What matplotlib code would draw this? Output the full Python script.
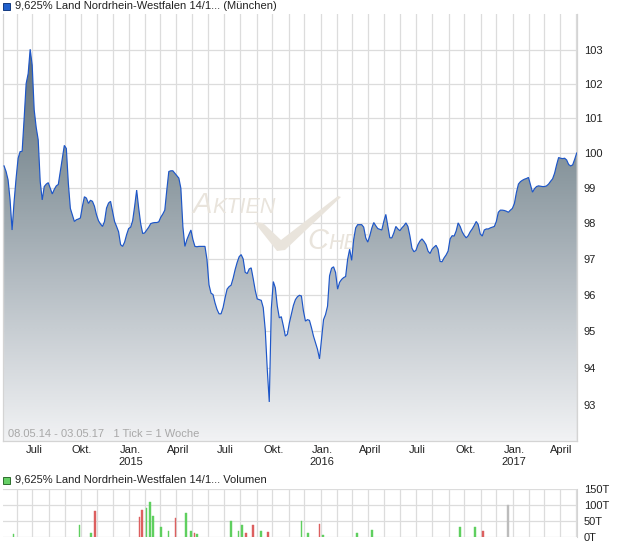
import numpy as np
import pandas as pd
import matplotlib
matplotlib.use("Agg")
import matplotlib.pyplot as plt
import matplotlib.dates as mdates
from matplotlib.colors import LinearSegmentedColormap
from matplotlib.patches import Rectangle, Polygon
from matplotlib.ticker import FixedLocator, FixedFormatter, NullLocator, NullFormatter
from matplotlib.transforms import ScaledTranslation
import datetime as dt

plt.rcParams['font.family'] = ['Liberation Sans', 'DejaVu Sans']

# ---------------- data ----------------
start_date = "2014-05-08"
end_date = "2017-05-03"

prices = [
    99.62, 99.46, 99.22, 98.65, 97.80, 98.60, 99.27, 99.84, 100.03, 100.04,
    100.99, 102.01, 102.30, 103.02, 102.55, 101.24, 100.73, 100.37, 99.17, 98.65,
    99.03, 99.10, 99.14, 98.98, 98.82, 98.95, 99.05, 99.09, 99.46, 99.84,
    100.21, 100.12, 99.12, 98.41, 98.23, 98.04, 98.09, 98.11, 98.14, 98.47,
    98.74, 98.70, 98.55, 98.64, 98.61, 98.47, 98.23, 98.06, 97.97, 97.90,
    98.04, 98.42, 98.56, 98.61, 98.33, 98.04, 97.90, 97.75, 97.39, 97.34,
    97.46, 97.67, 97.84, 97.88, 98.06, 98.47, 98.93, 98.42, 97.98, 97.70,
    97.72, 97.80, 97.88, 97.98, 98.00, 98.01, 98.01, 98.03, 98.16, 98.25,
    98.36, 98.93, 99.46, 99.48, 99.48, 99.41, 99.34, 99.27, 98.98, 97.90,
    97.34, 97.53, 97.67, 97.80, 97.53, 97.34, 97.33, 97.34, 97.34, 97.34,
    97.34, 96.97, 96.27, 96.04, 96.00, 95.77, 95.59, 95.47, 95.47, 95.64,
    95.91, 96.15, 96.22, 96.26, 96.45, 96.69, 96.89, 97.05, 97.11, 96.99,
    96.62, 96.58, 96.71, 96.74, 96.44, 96.12, 95.88, 95.86, 95.84, 95.64,
    95.03, 93.96, 93.08, 95.60, 96.36, 96.19, 95.68, 95.36, 95.39, 95.14,
    94.86, 94.91, 95.22, 95.46, 95.70, 95.86, 95.94, 95.98, 95.96, 95.55,
    95.27, 95.31, 95.29, 95.09, 94.86, 94.68, 94.50, 94.24, 94.77, 95.31,
    95.45, 95.68, 96.52, 96.73, 96.77, 96.61, 96.15, 96.34, 96.42, 96.47,
    96.50, 96.98, 97.26, 96.95, 97.53, 97.86, 97.95, 97.95, 97.95, 97.88,
    97.58, 97.46, 97.63, 97.85, 98.01, 97.92, 97.84, 97.82, 97.80, 98.04,
    98.24, 97.90, 97.58, 97.58, 97.72, 97.90, 97.83, 97.78, 97.86, 97.92,
    98.00, 97.90, 97.63, 97.29, 97.19, 97.23, 97.39, 97.49, 97.55, 97.48,
    97.39, 97.21, 97.14, 97.26, 97.32, 97.37, 97.26, 96.92, 96.91, 97.02,
    97.10, 97.21, 97.55, 97.64, 97.63, 97.77, 98.00, 97.90, 97.75, 97.65,
    97.58, 97.64, 97.75, 97.83, 97.93, 98.04, 97.95, 97.69, 97.63, 97.80,
    97.83, 97.83, 97.86, 97.88, 97.90, 98.04, 98.30, 98.36, 98.36, 98.35,
    98.33, 98.30, 98.36, 98.41, 98.55, 98.86, 99.10, 99.17, 99.21, 99.24,
    99.26, 99.29, 99.08, 98.87, 98.97, 99.03, 99.05, 99.04, 99.03, 99.03,
    99.05, 99.10, 99.18, 99.25, 99.41, 99.65, 99.86, 99.84, 99.83, 99.84,
    99.79, 99.66, 99.62, 99.65, 99.81, 99.99,
]

vol_dates = [
    "2014-05-26", "2014-09-29", "2014-10-21", "2014-10-28", "2015-01-21",
    "2015-01-26", "2015-02-03", "2015-02-10", "2015-02-16", "2015-03-03",
    "2015-03-17", "2015-03-31", "2015-04-20", "2015-04-29", "2015-05-06",
    "2015-05-11", "2015-07-14", "2015-07-29", "2015-08-04", "2015-08-12",
    "2015-08-25", "2015-09-10", "2015-09-23", "2015-11-26", "2015-12-08",
    "2015-12-30", "2016-01-06", "2016-03-10", "2016-04-08", "2016-09-23",
    "2016-10-21", "2016-11-05", "2016-12-23",
]
vol_values = [8, 37, 12, 81, 62, 84, 91, 110, 65, 31, 18, 59, 75, 18, 12, 8,
              50, 18, 37, 12, 37, 18, 15, 50, 12, 40, 5, 12, 21, 31, 31, 18, 100]
vol_dir = ["up", "up", "up", "down", "down", "down", "up", "up", "up", "up",
           "up", "down", "up", "up", "down", "up", "up", "up", "up", "down",
           "down", "up", "down", "up", "up", "down", "up", "up", "up", "up",
           "up", "down", "flat"]

quarter_ticks = ["2014-07-01", "2014-10-01", "2015-01-01", "2015-04-01",
                 "2015-07-01", "2015-10-01", "2016-01-01", "2016-04-01",
                 "2016-07-01", "2016-10-01", "2017-01-01", "2017-04-01"]
quarter_labels = ["Juli", "Okt.", "Jan.\n2015", "April",
                  "Juli", "Okt.", "Jan.\n2016", "April",
                  "Juli", "Okt.", "Jan.\n2017", "April"]
price_ticks = [93, 94, 95, 96, 97, 98, 99, 100, 101, 102, 103]
vol_ticks = [0, 50, 100, 150]
vol_tick_labels = ["0T", "50T", "100T", "150T"]

title_main = "9,625% Land Nordrhein-Westfalen 14/1... (München)"
title_vol = "9,625% Land Nordrhein-Westfalen 14/1... Volumen"
info_text = "08.05.14 - 03.05.17   1 Tick = 1 Woche"

# ---------------- figure ----------------
W, H = 620, 546
fig = plt.figure(figsize=(W / 100, H / 100), dpi=100)
fig.patch.set_facecolor("white")

dates = pd.date_range(start_date, end_date, periods=len(prices))
x_lo = dt.datetime(2014, 5, 6)
x_hi = dt.datetime(2017, 5, 3, 14)
y_lo, y_hi = 92.04, 104.07

grid_col = "#dcdcdc"
text_col = "#222222"

ax = fig.add_axes([3 / W, 1 - 441 / H, 574 / W, 427 / H])
ax.set_yscale("log")
ax.set_xlim(x_lo, x_hi)
ax.set_ylim(y_lo, y_hi)
ax.set_axisbelow(True)

ax.yaxis.set_major_locator(FixedLocator(price_ticks))
ax.yaxis.set_major_formatter(FixedFormatter([str(t) for t in price_ticks]))
ax.yaxis.set_minor_locator(NullLocator())
ax.yaxis.set_minor_formatter(NullFormatter())
ax.xaxis.set_major_locator(FixedLocator(mdates.date2num(pd.to_datetime(quarter_ticks))))
ax.xaxis.set_major_formatter(FixedFormatter(quarter_labels))
ax.xaxis.set_minor_locator(mdates.MonthLocator())
ax.grid(True, which="both", color=grid_col, lw=0.9)
ax.yaxis.tick_right()
ax.tick_params(axis="y", length=0, pad=5, labelsize=8, labelcolor=text_col)
ax.tick_params(axis="x", which="both", length=0, pad=3, labelsize=8, labelcolor=text_col)
shift = ScaledTranslation(1.5 / 100, 0, fig.dpi_scale_trans)
for lab in ax.get_xticklabels():
    lab.set_transform(lab.get_transform() + shift)
for s in ["left", "right", "bottom"]:
    ax.spines[s].set_color("#d4d4d4")
    ax.spines[s].set_linewidth(0.9)
ax.spines["top"].set_visible(False)

# watermark (decoration, axes-fraction placement)
def afr(px, py):
    return ((px - 3) / 574, (441 - py) / 427)

wm_col = "#e9e4dc"
ax.text(*afr(192, 213), "A", transform=ax.transAxes, fontsize=21, style="italic",
        color=wm_col, ha="left", va="baseline", zorder=1)
ax.text(*afr(212, 213), "KTIEN", transform=ax.transAxes, fontsize=15.5, style="italic",
        color=wm_col, ha="left", va="baseline", zorder=1)
ax.text(*afr(307, 249), "C", transform=ax.transAxes, fontsize=21, style="italic",
        color=wm_col, ha="left", va="baseline", zorder=1)
ax.text(*afr(328, 249), "HECK", transform=ax.transAxes, fontsize=15.5, style="italic",
        color=wm_col, ha="left", va="baseline", zorder=1)
check = Polygon([afr(254, 222), afr(263, 223), afr(281, 240), afr(338, 196),
                 afr(341, 197), afr(285, 250), afr(277, 251)],
                closed=True, transform=ax.transAxes, facecolor=wm_col,
                edgecolor="none", zorder=1)
ax.add_patch(check)

# gradient area
poly = ax.fill_between(dates, prices, y_lo, facecolor="none", edgecolor="none", zorder=2)
cmap = LinearSegmentedColormap.from_list(
    "area", [(0.0, "#f1f2f4"), (0.25, "#c7cdd2"), (0.45, "#a5afb6"),
             (0.60, "#8d9aa1"), (0.92, "#5e6e79"), (1.0, "#56666f")])
grad = np.linspace(0, 1, 512).reshape(-1, 1)
xn = mdates.date2num([x_lo, x_hi])
im = ax.imshow(grad, cmap=cmap, origin="lower", aspect="auto",
               extent=[xn[0], xn[1], y_lo, y_hi], zorder=2, interpolation="bilinear")
im.set_clip_path(poly.get_paths()[0], transform=poly.get_transform())
ax.set_xlim(x_lo, x_hi)
ax.set_ylim(y_lo, y_hi)

ax.plot(dates, prices, color="#1d56c8", lw=0.85, zorder=4, solid_joinstyle="miter")

ax.text(*afr(8, 434), info_text, transform=ax.transAxes, fontsize=8,
        color="#a8a8a8", ha="left", va="center", zorder=5)

# titles
fig.patches.append(Rectangle((3 / W, 1 - 10 / H), 7 / W, 7 / H, transform=fig.transFigure,
                             facecolor="#2060cc", edgecolor="#143a80", lw=0.7))
fig.text(15 / W, 1 - 6 / H, title_main, fontsize=8, color=text_col, ha="left", va="center")
fig.patches.append(Rectangle((3 / W, 1 - 484 / H), 7 / W, 7 / H, transform=fig.transFigure,
                             facecolor="#66d066", edgecolor="#2d6e2d", lw=0.7))
fig.text(15 / W, 1 - 480 / H, title_vol, fontsize=8, color=text_col, ha="left", va="center")

# volume panel
vax = fig.add_axes([3 / W, 1 - 537 / H, 574 / W, 48 / H])
vax.set_xlim(x_lo, x_hi)
vax.set_ylim(0, 150)
vax.set_axisbelow(True)
col_map = {"up": "#5fcf5f", "down": "#dc5f5f", "flat": "#bcbcbc"}
bar_cols = [col_map[d] for d in vol_dir]
vax.bar(pd.to_datetime(vol_dates), vol_values, width=3.0,
        color=bar_cols, edgecolor=bar_cols, linewidth=0.3, zorder=3)
vax.yaxis.set_major_locator(FixedLocator(vol_ticks))
vax.yaxis.set_major_formatter(FixedFormatter(vol_tick_labels))
vax.xaxis.set_major_locator(mdates.MonthLocator())
vax.xaxis.set_major_formatter(NullFormatter())
vax.grid(True, color=grid_col, lw=0.9)
vax.yaxis.tick_right()
vax.tick_params(axis="y", length=0, pad=5, labelsize=8, labelcolor=text_col)
vax.tick_params(axis="x", length=0)
for s in vax.spines.values():
    s.set_visible(False)
vax.spines["right"].set_visible(True)
vax.spines["right"].set_color("#d4d4d4")

fig.savefig("out.png", dpi=100)
